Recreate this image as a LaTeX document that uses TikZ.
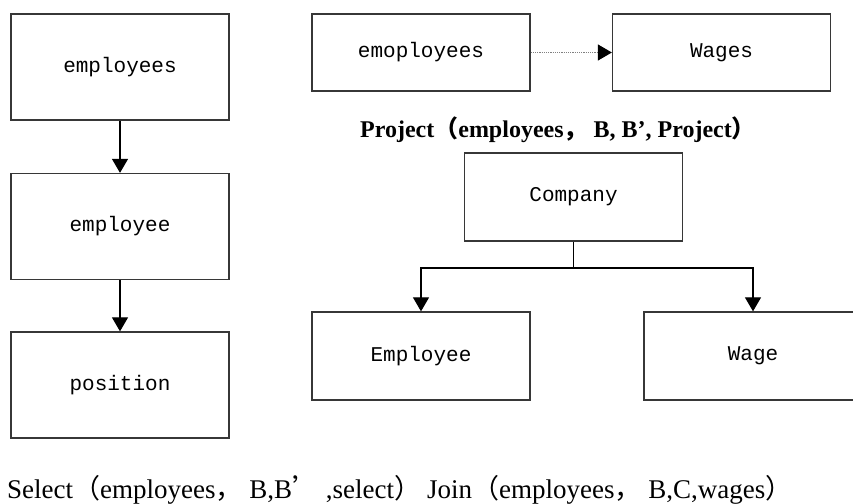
\documentclass[tikz,border=0pt]{standalone}
\usepackage{fontspec}
\setmainfont{Liberation Serif}
\setmonofont{Liberation Mono}
\newfontfamily\cjk{Noto Sans CJK SC}
\usetikzlibrary{arrows.meta, positioning}
\definecolor{boxgray}{RGB}{55,55,55}

\begin{document}
\begin{tikzpicture}[x=1pt, y=-1pt,
    box/.style={draw=boxgray, line width=1.3pt, minimum width=218pt, inner sep=0pt,
      font=\ttfamily\fontsize{21}{24}\selectfont},
    tallbox/.style={box, minimum height=106pt},
    flatbox/.style={box, minimum height=77pt},
    midbox/.style={box, minimum height=88pt},
    arr/.style={line width=1.2pt, -{Triangle[length=14pt, width=16pt]}},
    caption/.style={inner sep=0pt, font=\fontsize{27}{30}\selectfont}]
  \useasboundingbox (0,0) rectangle (853,503);
  % left column
  \node[tallbox] (emps) at (120,67) {employees};
  \node[tallbox] (emp) at (120,226.5) {employee};
  \node[tallbox] (pos) at (120,385) {position};
  \foreach \a/\b in {emps/emp, emp/pos} {
    \draw[arr] (\a) -- (\b);
  }
  % project
  \node[flatbox] (emoploy) at (421,52.5) {emoployees};
  \node[flatbox] (wages) at (721.5,52.5) {Wages};
  \draw[arr, draw=gray, densely dotted, line width=1.1pt,
    -{Triangle[length=14pt, width=16pt, color=black]}] (emoploy) -- (wages);
  \node[caption, font=\bfseries\fontsize{24}{28}\selectfont] (projlbl) at (558,130)
    {Project{\cjk （}employees{\cjk ，} B, B’, Project{\cjk ）}};
  % join
  \node[midbox] (company) at (573.5,197) {Company};
  \node[midbox] (employee) at (421,356) {Employee};
  \node[midbox] (wage) at (753,356) {Wage};
  \coordinate (split) at (573.5,268);
  \draw[line width=1.2pt] (company) -- (split);
  \draw[arr] (split) -| (employee);
  \draw[arr] (split) -| (wage);
  % captions
  \node[caption, anchor=west] (sellbl) at (7,490)
    {Select{\cjk （}employees{\cjk ，} B,B{\cjk ’} ,select{\cjk ）}};
  \node[caption, anchor=west] (joinlbl) at (427,490)
    {Join{\cjk （}employees{\cjk ，} B,C,wages{\cjk ）}};
\end{tikzpicture}
\end{document}
